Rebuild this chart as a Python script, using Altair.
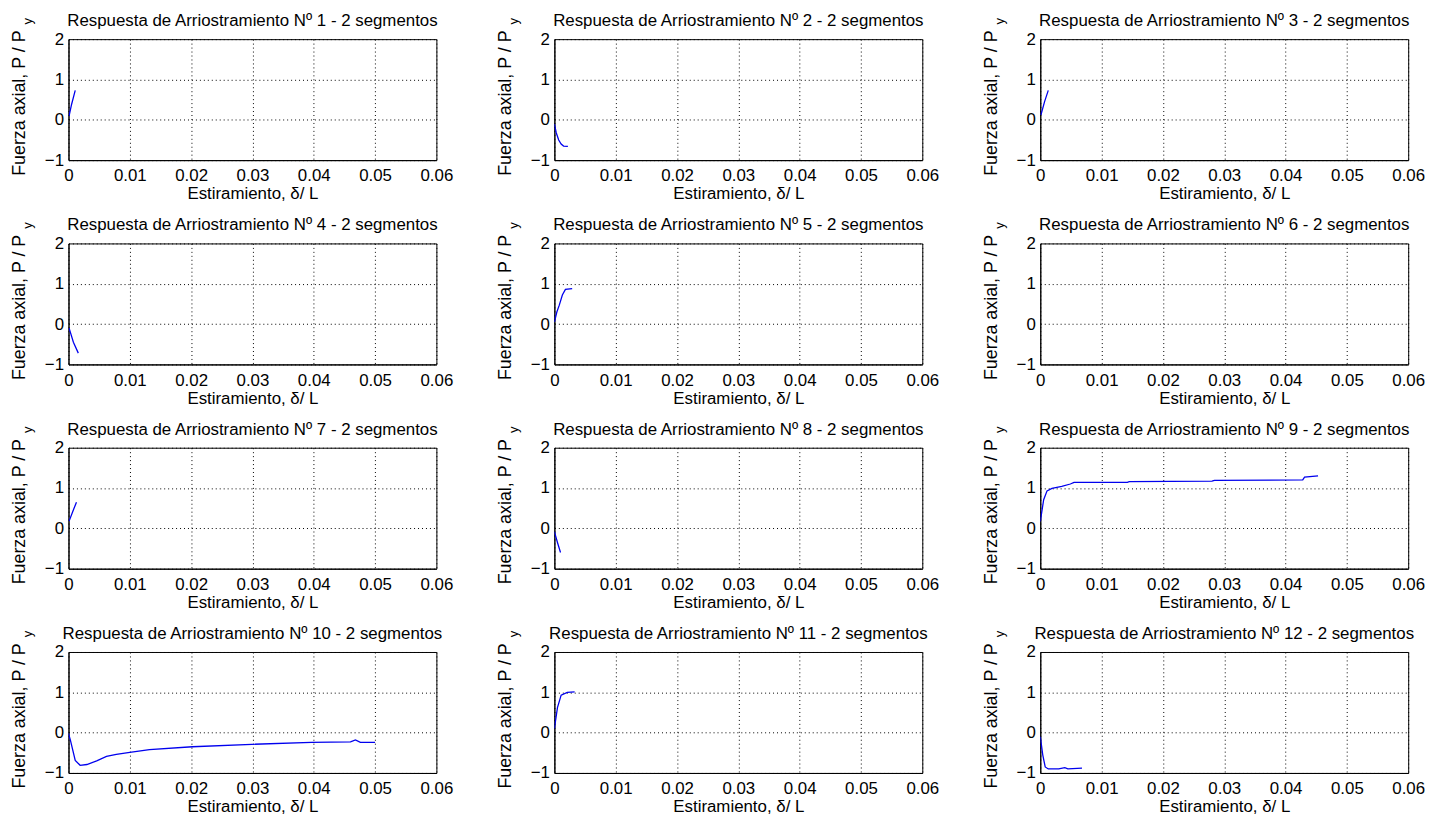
import altair as alt
import pandas as pd

brace_numbers = [1, 2, 3, 4, 5, 6, 7, 8, 9, 10, 11, 12]
x_ticks = [0, 0.01, 0.02, 0.03, 0.04, 0.05, 0.06]
y_ticks = [-1, 0, 1, 2]

x1 = [0.0001, 0.0005, 0.0011]
y1 = [0.10, 0.38, 0.73]
x2 = [0.0, 0.0003, 0.0007, 0.0011, 0.0015, 0.0022]
y2 = [-0.10, -0.32, -0.50, -0.60, -0.65, -0.66]
x3 = [0.0001, 0.0007, 0.0013]
y3 = [0.12, 0.45, 0.73]
x4 = [0.0001, 0.0008, 0.0016]
y4 = [-0.10, -0.45, -0.72]
x5 = [0.0, 0.0004, 0.0008, 0.0013, 0.0018, 0.0029]
y5 = [0.05, 0.30, 0.47, 0.72, 0.86, 0.88]
x6 = []
y6 = []
x7 = [0.0001, 0.0007, 0.0013]
y7 = [0.18, 0.42, 0.65]
x8 = [0.0, 0.0005, 0.0010]
y8 = [-0.08, -0.35, -0.60]
x9 = [0.0, 0.00055, 0.0011, 0.0019, 0.0035, 0.0049, 0.0055, 0.0142, 0.0145,
      0.0280, 0.0284, 0.0428, 0.0431, 0.0453]
y9 = [0.17, 0.71, 0.93, 0.99, 1.04, 1.10, 1.14, 1.14, 1.16, 1.17, 1.19, 1.20,
      1.27, 1.30]
x10 = [0.0, 0.0003, 0.0011, 0.0019, 0.0030, 0.0046, 0.0062, 0.0078, 0.0100,
       0.0132, 0.0202, 0.0299, 0.0396, 0.0460, 0.0468, 0.0476, 0.0500]
y10 = [-0.02, -0.18, -0.69, -0.81, -0.79, -0.70, -0.59, -0.54, -0.49, -0.42,
       -0.35, -0.29, -0.24, -0.23, -0.18, -0.24, -0.24]
x11 = [0.0, 0.0005, 0.0011, 0.0021, 0.0033]
y11 = [0.10, 0.62, 0.93, 1.00, 1.01]
x12 = [0.0, 0.0004, 0.0008, 0.0013, 0.0030, 0.0040, 0.0045, 0.0068]
y12 = [-0.10, -0.55, -0.85, -0.90, -0.90, -0.87, -0.90, -0.88]

series_x = [x1, x2, x3, x4, x5, x6, x7, x8, x9, x10, x11, x12]
series_y = [y1, y2, y3, y4, y5, y6, y7, y8, y9, y10, y11, y12]

FONT = "Liberation Sans"
W, H = 371, 122


def panel(n, xs, ys):
    df = pd.DataFrame({"x": pd.Series(xs, dtype=float),
                       "y": pd.Series(ys, dtype=float),
                       "i": pd.Series(range(len(xs)), dtype=float)})
    line = alt.Chart(df).mark_line(color="#0000ee", strokeWidth=1.3, clip=True).encode(
        x=alt.X("x:Q",
                scale=alt.Scale(domain=[0, 0.06], nice=False, zero=False),
                axis=alt.Axis(values=x_ticks, format=".2~f",
                              title="Estiramiento, δ/ L")),
        y=alt.Y("y:Q",
                scale=alt.Scale(domain=[-1, 2], nice=False, zero=False),
                axis=alt.Axis(values=y_ticks, title="Fuerza axial, P / P",
                              titleFontSize=18, titleY=64)),
        order=alt.Order("i:Q"),
    )
    sub = alt.Chart(pd.DataFrame({"t": ["y"]})).mark_text(
        angle=270, fontSize=13, font=FONT, color="black", align="center",
        baseline="middle"
    ).encode(text="t:N", x=alt.value(-41), y=alt.value(-18))
    return alt.layer(line, sub).properties(
        width=W, height=H,
        title=alt.TitleParams(f"Respuesta de Arriostramiento Nº {n} - 2 segmentos"),
    )


panels = [panel(n, xs, ys) for n, xs, ys in zip(brace_numbers, series_x, series_y)]
chart = alt.concat(
    *panels, columns=3, bounds="flush",
    spacing=alt.RowColnumber(row=84, column=119),
).properties(
    background="white",
    padding={"left": 2, "top": 0, "right": 5, "bottom": 0},
).configure_view(
    stroke="black", strokeWidth=1
).configure_axis(
    grid=True, gridColor="black", gridDash=[1, 3], gridOpacity=1, gridWidth=1,
    domain=True, domainColor="black", ticks=False,
    labelFont=FONT, labelFontSize=17, labelColor="black", labelPadding=5,
    titleFont=FONT, titleFontSize=17, titleFontWeight="normal", titleColor="black",
    labelOverlap=False, labelFlush=False,
).configure_axisX(
    titlePadding=2, labelPadding=8
).configure_axisY(
    titlePadding=16
).configure_title(
    font=FONT, fontSize=17, fontWeight="normal", color="black", anchor="middle",
    offset=-12
)

chart.save("out.html", embed_options={"renderer": "svg", "actions": False})
